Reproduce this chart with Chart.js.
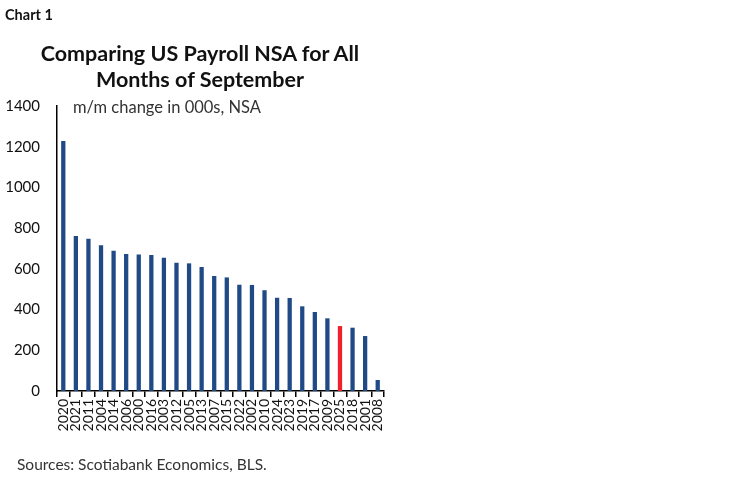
<!DOCTYPE html>
<html>
<head>
<meta charset="utf-8">
<script src="https://cdn.jsdelivr.net/npm/chart.js@4"></script>
<style>
  html, body { margin: 0; padding: 0; background: #fff; }
  #wrap { position: relative; width: 748px; height: 483px; font-family: Lato, "Open Sans", sans-serif; color: #111; }
  #chartBox { position: absolute; left: 0; top: 0; width: 748px; height: 483px; }
  .txt { position: absolute; white-space: nowrap; }
  #label { left: 5px; top: 6px; font-size: 14.5px; font-weight: bold; }
  #title { left: 0; width: 400px; top: 40px; text-align: center; font-size: 21.5px; font-weight: bold; line-height: 26px; }
  #unit { left: 73px; top: 97px; font-size: 16.5px; color: #333; }
  #source { left: 17px; top: 455px; font-size: 15.5px; color: #333; }
</style>
</head>
<body>
<div id="wrap">
  <div id="chartBox"><canvas id="payrollChart"></canvas></div>
  <div class="txt" id="label">Chart 1</div>
  <div class="txt" id="title">Comparing US Payroll NSA for All<br>Months of September</div>
  <div class="txt" id="unit">m/m change in 000s, NSA</div>
  <div class="txt" id="source">Sources: Scotiabank Economics, BLS.</div>
</div>
<script>
// September m/m change, 000s, NSA (sorted high to low)
const years = ['2020', '2021', '2011', '2004', '2014', '2006', '2000', '2016', '2003', '2012',
  '2005', '2013', '2007', '2015', '2022', '2002', '2010', '2024', '2023', '2019',
  '2017', '2009', '2025', '2018', '2001', '2008'];
const changes = [1228, 761, 748, 716, 689, 673, 671, 668, 655, 630,
  627, 609, 565, 558, 522, 521, 495, 458, 457, 416,
  388, 357, 319, 311, 270, 54];
const highlightYear = '2025';
const yTicks = [0, 200, 400, 600, 800, 1000, 1200, 1400];

const blue = '#1f4a86';
const red = '#f0212e';

const ctx = document.getElementById('payrollChart').getContext('2d');
new Chart(ctx, {
  type: 'bar',
  data: {
    labels: years,
    datasets: [
      {
        data: changes,
        backgroundColor: years.map((y) => (y === highlightYear ? red : blue)),
        barPercentage: 0.34,
        categoryPercentage: 1.0,
      },
    ],
  },
  options: {
    responsive: true,
    maintainAspectRatio: false,
    animation: false,
    layout: {
      padding: { left: 0, right: 364, top: 106, bottom: 0 },
    },
    plugins: {
      legend: { display: false },
      tooltip: { enabled: false },
    },
    scales: {
      x: {
        offset: true,
        grid: {
          display: true,
          offset: true,
          drawOnChartArea: false,
          drawTicks: true,
          tickLength: 6,
          color: '#000',
          lineWidth: 1.5,
        },
        border: { display: true, color: '#000', width: 1.5 },
        ticks: {
          minRotation: 90,
          maxRotation: 90,
          autoSkip: false,
          padding: 2,
          color: '#111',
          font: { family: 'Lato', size: 14 },
        },
        afterFit: (scale) => {
          scale.height = 92;
        },
      },
      y: {
        min: 0,
        max: 1400,
        afterBuildTicks: (scale) => {
          scale.ticks = yTicks.map((v) => ({ value: v }));
        },
        grid: { display: false, drawTicks: false },
        border: { display: true, color: '#000', width: 1.5 },
        ticks: {
          padding: 17,
          color: '#111',
          font: { family: 'Lato', size: 15 },
          callback: (v) => String(v),
        },
        afterFit: (scale) => {
          scale.width = 57;
        },
      },
    },
  },
});
</script>
</body>
</html>
